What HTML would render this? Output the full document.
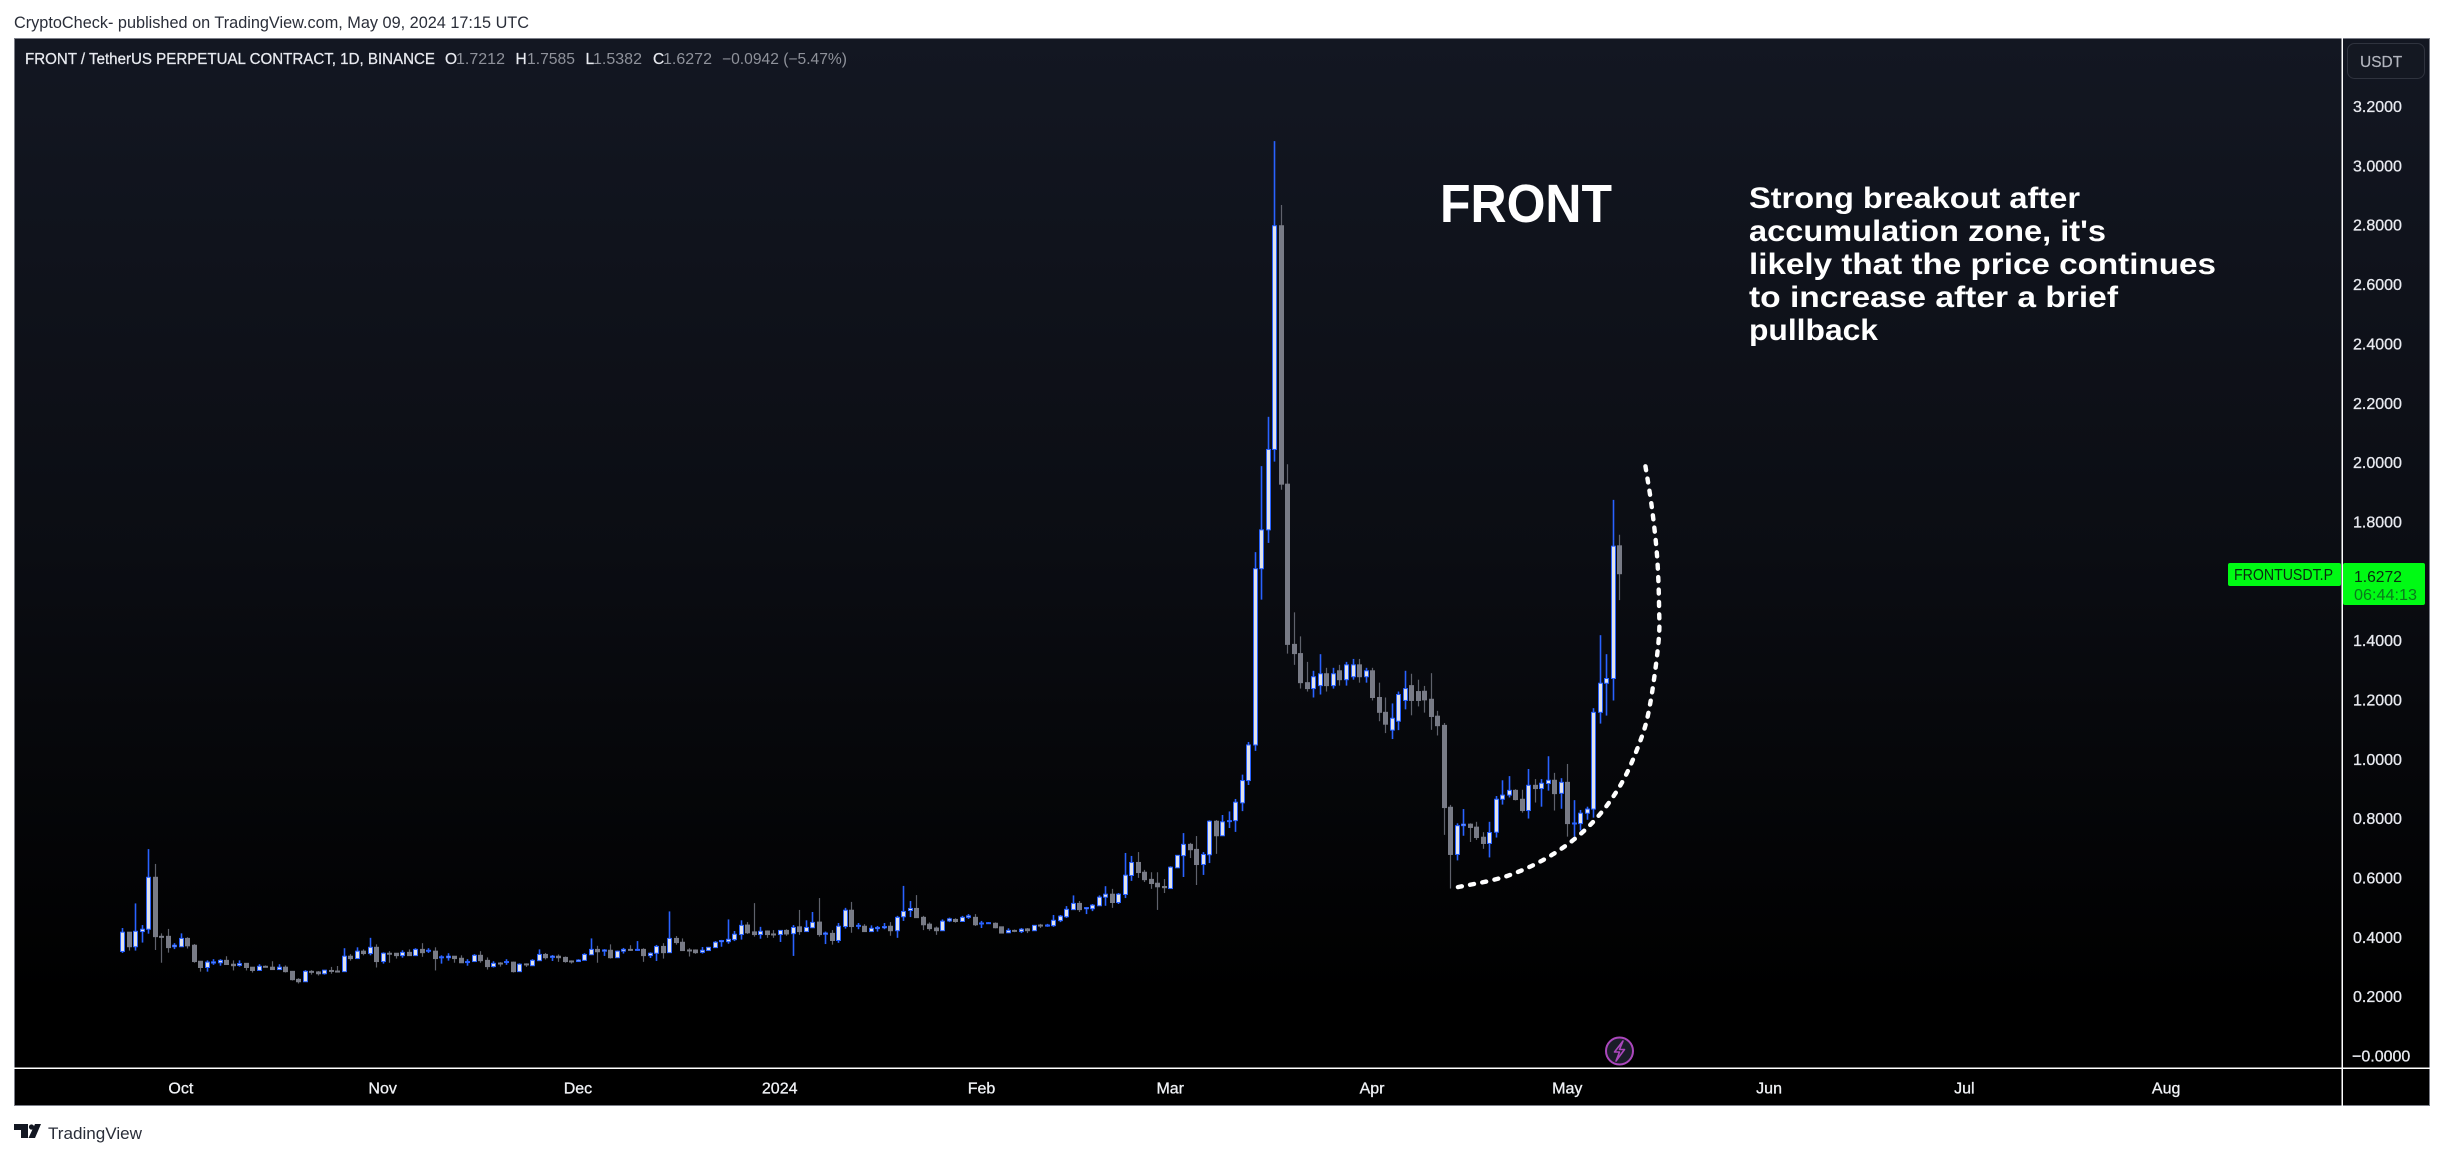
<!DOCTYPE html>
<html lang="en">
<head>
<meta charset="utf-8">
<title>FRONT / TetherUS Perpetual Contract chart</title>
<style>
html,body{margin:0;padding:0;background:#fff;width:2444px;height:1155px;overflow:hidden}
svg{display:block;font-family:"Liberation Sans",sans-serif}
</style>
</head>
<body>
<svg id="chart" xmlns="http://www.w3.org/2000/svg" width="2444" height="1155" viewBox="0 0 2444 1155">
  <defs>
    <linearGradient id="bgGrad" gradientUnits="userSpaceOnUse" x1="0" y1="38" x2="0" y2="1068">
      <stop offset="0" stop-color="#131722"/>
      <stop offset="0.5" stop-color="#0b0d13"/>
      <stop offset="0.93" stop-color="#000000"/>
      <stop offset="1" stop-color="#000000"/>
    </linearGradient>
  </defs>

  <rect x="0" y="0" width="2444" height="1155" fill="#ffffff"/>
  <text x="14" y="28" font-size="16.5" fill="#2a2e39" textLength="515" lengthAdjust="spacingAndGlyphs">CryptoCheck- published on TradingView.com, May 09, 2024 17:15 UTC</text>

  <rect x="14" y="38" width="2416" height="1030" fill="url(#bgGrad)"/>
  <rect x="14" y="1068" width="2416" height="38" fill="#000000"/>
  <rect x="14.5" y="38.5" width="2415" height="1067" fill="none" stroke="#7b7e88" stroke-width="1"/>

  <g id="candles"></g>
  <path id="arc" fill="none" stroke="#ffffff" stroke-width="4.4" stroke-linecap="round" stroke-dasharray="4 8.4"/>

  <rect x="2341.5" y="38" width="1.5" height="1068" fill="#ffffff"/>
  <rect x="14" y="1067.5" width="2416" height="1.5" fill="#ffffff"/>

  <g id="yTicks"></g>
  <g id="xTicks"></g>

  <g font-size="15.5" stroke-width="0.25">
    <text x="25" y="64" fill="#e8eaf0" stroke="#e8eaf0" textLength="410" lengthAdjust="spacingAndGlyphs">FRONT / TetherUS PERPETUAL CONTRACT, 1D, BINANCE</text>
    <text x="445" y="64" fill="#e8eaf0" stroke="#e8eaf0">O</text>
    <text x="456" y="64" fill="#8f929b" textLength="49" lengthAdjust="spacingAndGlyphs">1.7212</text>
    <text x="515.5" y="64" fill="#e8eaf0" stroke="#e8eaf0">H</text>
    <text x="527" y="64" fill="#8f929b" textLength="48" lengthAdjust="spacingAndGlyphs">1.7585</text>
    <text x="585.5" y="64" fill="#e8eaf0" stroke="#e8eaf0">L</text>
    <text x="593" y="64" fill="#8f929b" textLength="49" lengthAdjust="spacingAndGlyphs">1.5382</text>
    <text x="653" y="64" fill="#e8eaf0" stroke="#e8eaf0">C</text>
    <text x="663" y="64" fill="#8f929b" textLength="49" lengthAdjust="spacingAndGlyphs">1.6272</text>
    <text x="722" y="64" fill="#8f929b" textLength="125" lengthAdjust="spacingAndGlyphs">−0.0942 (−5.47%)</text>
  </g>

  <text x="1440" y="222" font-size="54" font-weight="bold" fill="#ffffff" textLength="172" lengthAdjust="spacingAndGlyphs">FRONT</text>
  <g font-size="30" font-weight="bold" fill="#ffffff">
    <text x="1749" y="208" textLength="331" lengthAdjust="spacingAndGlyphs">Strong breakout after</text>
    <text x="1749" y="241" textLength="357" lengthAdjust="spacingAndGlyphs">accumulation zone, it's</text>
    <text x="1749" y="274" textLength="467" lengthAdjust="spacingAndGlyphs">likely that the price continues</text>
    <text x="1749" y="307" textLength="369" lengthAdjust="spacingAndGlyphs">to increase after a brief</text>
    <text x="1749" y="340" textLength="129" lengthAdjust="spacingAndGlyphs">pullback</text>
  </g>

  <g>
    <rect x="2347.5" y="43.5" width="77" height="35" rx="7" fill="#141822" stroke="#2f333e" stroke-width="1"/>
    <text x="2360" y="67" font-size="15.5" fill="#b2b5be" stroke="#b2b5be" stroke-width="0.2">USDT</text>
  </g>

  <g>
    <rect x="2228" y="563" width="113" height="23" rx="2" fill="#00fa14"/>
    <text x="2234" y="580" font-size="15.5" fill="#0a2a10" textLength="99" lengthAdjust="spacingAndGlyphs">FRONTUSDT.P</text>
    <rect x="2343" y="563" width="82" height="42" rx="2" fill="#00fa14"/>
    <text x="2354" y="582" font-size="15.5" fill="#0a2a10" textLength="48" lengthAdjust="spacingAndGlyphs">1.6272</text>
    <text x="2354" y="600" font-size="15.5" fill="#0a7a1c" textLength="63" lengthAdjust="spacingAndGlyphs">06:44:13</text>
  </g>

  <g>
    <circle cx="1619.5" cy="1051" r="13.5" fill="#1a1d28" stroke="#ab47bc" stroke-width="2"/>
    <path d="M1623 1041 L1614.5 1052 L1619.5 1052 L1616 1061 L1624.5 1049.5 L1619.5 1049.5 Z" fill="none" stroke="#ab47bc" stroke-width="1.6" stroke-linejoin="round"/>
  </g>

  <g>
    <path d="M14 1124 H28 V1138 H21 V1130 H14 Z M35 1124 H41 L35 1138 H28.5 Z" fill="#131722"/>
    <circle cx="31.5" cy="1127" r="2.6" fill="#131722"/>
    <text x="48" y="1139" font-size="17" fill="#2a2e39" textLength="94" lengthAdjust="spacingAndGlyphs">TradingView</text>
  </g>
</svg>

<script>
const opens = [
.354,.419,.370,.421,.429,.604,.405,.405,.370,.370,
.398,.375,.321,.300,.315,.316,.324,.311,.307,.314,
.301,.290,.304,.301,.293,.301,.287,.260,.252,.287,
.285,.279,.290,.288,.286,.338,.330,.355,.347,.368,
.320,.348,.348,.340,.351,.340,.361,.356,.355,.333,
.333,.338,.331,.318,.320,.341,.324,.303,.315,.318,
.318,.286,.312,.306,.323,.344,.334,.338,.334,.322,
.320,.324,.343,.361,.355,.358,.333,.355,.361,.359,
.361,.340,.348,.371,.350,.398,.385,.359,.359,.351,
.357,.367,.387,.387,.394,.411,.443,.420,.411,.423,
.413,.411,.425,.414,.437,.421,.434,.453,.412,.415,
.391,.438,.493,.439,.439,.421,.431,.434,.439,.424,
.471,.492,.499,.469,.446,.433,.424,.457,.462,.455,
.469,.469,.447,.448,.449,.437,.417,.425,.421,.430,
.424,.443,.441,.441,.458,.471,.495,.516,.498,.498,
.508,.537,.547,.519,.546,.610,.654,.621,.597,.584,
.573,.566,.636,.677,.715,.698,.647,.680,.793,.744,
.793,.795,.855,.93,1.05,1.644,1.775,2.046,2.800,1.929,
1.389,1.358,1.26,1.24,1.25,1.29,1.25,1.30,1.27,1.28,
1.32,1.28,1.30,1.21,1.16,1.10,1.13,1.20,1.25,1.23,
1.231,1.204,1.147,1.116,.840,.681,.778,.783,.773,.739,
.718,.756,.867,.881,.897,.867,.829,.914,.903,.920,
.931,.887,.924,.785,.785,.820,.834,1.160,1.258,1.274,
1.7212];
const highs = [
.433,.419,.516,.443,.699,.649,.415,.430,.382,.415,
.402,.379,.321,.324,.328,.328,.338,.324,.324,.314,
.301,.311,.307,.321,.311,.307,.287,.264,.291,.291,
.288,.291,.302,.305,.365,.345,.368,.361,.400,.378,
.351,.355,.348,.358,.361,.365,.382,.365,.368,.341,
.348,.338,.341,.328,.345,.355,.334,.321,.318,.328,
.320,.314,.314,.328,.361,.349,.342,.344,.337,.324,
.328,.348,.398,.373,.362,.378,.357,.366,.375,.389,
.365,.351,.376,.382,.489,.406,.398,.365,.361,.369,
.368,.389,.393,.462,.423,.459,.453,.517,.437,.425,
.426,.426,.429,.443,.494,.459,.487,.534,.421,.426,
.450,.501,.521,.450,.446,.442,.440,.450,.453,.474,
.575,.524,.544,.474,.452,.438,.462,.468,.466,.474,
.480,.480,.457,.453,.452,.437,.432,.428,.433,.433,
.442,.447,.447,.477,.477,.507,.543,.524,.504,.514,
.543,.574,.565,.551,.686,.676,.689,.629,.621,.621,
.598,.641,.678,.753,.720,.743,.689,.796,.797,.814,
.826,.868,.95,1.06,1.70,1.990,2.156,3.085,2.870,1.996,
1.497,1.416,1.33,1.30,1.356,1.31,1.31,1.32,1.33,1.34,
1.34,1.31,1.31,1.26,1.21,1.19,1.23,1.30,1.29,1.27,
1.249,1.292,1.165,1.124,.848,.786,.834,.786,.791,.756,
.791,.878,.931,.945,.901,.899,.969,.935,.935,1.012,
.956,.938,.986,.864,.831,.842,1.174,1.420,1.356,1.876,
1.7585];
const lows = [
.349,.357,.357,.384,.414,.359,.316,.350,.362,.370,
.364,.316,.286,.286,.309,.306,.310,.290,.303,.290,
.283,.290,.302,.293,.293,.283,.256,.246,.252,.276,
.273,.276,.279,.283,.286,.323,.330,.341,.341,.300,
.313,.316,.330,.333,.340,.340,.336,.349,.290,.313,
.323,.316,.316,.306,.320,.316,.293,.300,.303,.309,
.283,.286,.302,.306,.323,.327,.322,.319,.316,.313,
.320,.324,.343,.316,.339,.330,.333,.347,.356,.356,
.319,.332,.322,.330,.350,.377,.357,.337,.346,.347,
.357,.367,.370,.380,.389,.394,.413,.404,.397,.400,
.400,.386,.407,.339,.410,.421,.434,.404,.379,.377,
.383,.431,.417,.429,.421,.421,.421,.429,.407,.400,
.457,.470,.468,.426,.424,.410,.424,.453,.451,.455,
.464,.440,.433,.447,.432,.416,.416,.419,.416,.416,
.424,.433,.437,.437,.453,.467,.495,.487,.480,.490,
.508,.508,.501,.514,.534,.592,.602,.588,.565,.494,
.551,.566,.636,.605,.669,.578,.612,.652,.683,.744,
.770,.757,.827,.915,1.03,1.540,1.731,2.005,1.910,1.358,
1.32,1.24,1.23,1.21,1.22,1.23,1.24,1.25,1.25,1.27,
1.26,1.26,1.20,1.13,1.09,1.07,1.10,1.17,1.15,1.18,
1.159,1.101,1.082,.747,.566,.661,.744,.723,.730,.700,
.671,.738,.849,.873,.863,.822,.802,.856,.842,.896,
.829,.835,.741,.741,.762,.798,.805,1.122,1.149,1.200,
1.5382];
const closes = [
.419,.370,.422,.429,.604,.404,.403,.367,.375,.398,
.373,.320,.300,.318,.319,.324,.310,.306,.313,.300,
.290,.304,.302,.293,.301,.286,.259,.252,.287,.285,
.279,.291,.287,.286,.338,.330,.355,.347,.368,.320,
.348,.346,.340,.351,.340,.361,.350,.358,.330,.336,
.338,.330,.316,.320,.341,.323,.303,.314,.312,.320,
.286,.311,.310,.324,.344,.333,.338,.333,.320,.320,
.325,.344,.361,.353,.359,.333,.355,.361,.359,.361,
.340,.348,.371,.350,.398,.384,.357,.357,.350,.358,
.368,.385,.391,.395,.412,.442,.417,.411,.422,.411,
.411,.425,.413,.435,.421,.435,.452,.411,.416,.391,
.439,.493,.438,.442,.421,.432,.435,.438,.424,.469,
.489,.499,.468,.444,.431,.424,.456,.464,.455,.469,
.474,.444,.450,.451,.434,.416,.425,.423,.429,.424,
.442,.441,.443,.459,.473,.496,.516,.495,.502,.510,
.537,.547,.519,.547,.611,.654,.620,.596,.583,.572,
.569,.638,.678,.715,.697,.647,.681,.793,.744,.791,
.795,.857,.93,1.05,1.644,1.775,2.046,2.800,1.929,1.389,
1.358,1.26,1.24,1.28,1.29,1.25,1.29,1.27,1.32,1.32,
1.28,1.30,1.21,1.16,1.12,1.14,1.22,1.24,1.20,1.20,
1.202,1.146,1.115,.839,.681,.778,.783,.772,.738,.718,
.755,.867,.881,.897,.866,.829,.914,.903,.921,.931,
.886,.924,.785,.787,.820,.834,1.160,1.258,1.274,1.720,
1.6272];
const priceTicks = [3.2,3.0,2.8,2.6,2.4,2.2,2.0,1.8,1.4,1.2,1.0,0.8,0.6,0.4,0.2,0];
const priceTickLabels = ["3.2000","3.0000","2.8000","2.6000","2.4000","2.2000","2.0000","1.8000","1.4000","1.2000","1.0000","0.8000","0.6000","0.4000","0.2000","−0.0000"];
const monthBars = [9,40,70,101,132,161,192,222,253,283,314];
const monthLabels = ["Oct","Nov","Dec","2024","Feb","Mar","Apr","May","Jun","Jul","Aug"];
const curveBars = [205.2,212.7,219.6,225.5,230.1,233.2,234.7,236.0,236.1,235.8,235.0,234.0];
const curvePrices = [.571,.608,.679,.780,.912,1.063,1.185,1.394,1.515,1.684,1.849,1.990];

const NS = 'http://www.w3.org/2000/svg';
const xScale = function (i) { return 122.3 + 6.509 * i; };
const yScale = function (p) { return 1056.5 - 296.7 * p; };
const UP_FILL = '#e0e3eb', UP_EDGE = '#2962ff', DOWN_FILL = '#787b86', DOWN_WICK = '#5f626c';

const candleGroup = document.getElementById('candles');
opens.forEach(function (o, i) {
  const c = closes[i];
  const up = c >= o;
  const cx = Math.round(xScale(i)) + 0.5;
  const wick = document.createElementNS(NS, 'line');
  
  
  wick.setAttribute('x1', cx);
  wick.setAttribute('x2', cx);
  wick.setAttribute('y1', yScale(highs[i]));
  wick.setAttribute('y2', yScale(lows[i]));
  wick.setAttribute('stroke', up ? UP_EDGE : DOWN_WICK);
  wick.setAttribute('stroke-width', up ? 1.6 : 1.2);
  candleGroup.appendChild(wick);
  const top = yScale(Math.max(o, c));
  const bot = yScale(Math.min(o, c));
  const body = document.createElementNS(NS, 'rect');
  
  
  body.setAttribute('x', cx - 2);
  body.setAttribute('y', top);
  body.setAttribute('width', 4);
  body.setAttribute('height', Math.max(bot - top, 1));
  body.setAttribute('fill', up ? UP_FILL : DOWN_FILL);
  body.setAttribute('stroke', up ? UP_EDGE : DOWN_FILL);
  body.setAttribute('stroke-width', 1);
  candleGroup.appendChild(body);
});

const yGroup = document.getElementById('yTicks');
priceTicks.forEach(function (p, i) {
  const t = document.createElementNS(NS, 'text');
  
  
  t.setAttribute('x', p === 0 ? 2352 : 2353);
  t.setAttribute('y', yScale(p) + 5);
  t.setAttribute('font-size', '16');
  t.setAttribute('fill', '#e8eaf0');
  t.setAttribute('stroke', '#e8eaf0');
  t.setAttribute('stroke-width', '0.3');
  t.textContent = priceTickLabels[i];
  yGroup.appendChild(t);
});

const xGroup = document.getElementById('xTicks');
monthBars.forEach(function (b, i) {
  const t = document.createElementNS(NS, 'text');
  
  
  t.setAttribute('x', xScale(b));
  t.setAttribute('y', 1093.5);
  t.setAttribute('text-anchor', 'middle');
  t.setAttribute('font-size', '16');
  t.setAttribute('fill', '#f0f2f6');
  t.setAttribute('stroke', '#f0f2f6');
  t.setAttribute('stroke-width', '0.3');
  t.textContent = monthLabels[i];
  xGroup.appendChild(t);
});

(function () {
  const pts = curveBars.map(function (b, i) { return [xScale(b), yScale(curvePrices[i])]; });
  let d = 'M' + pts[0][0] + ' ' + pts[0][1];
  for (let i = 0; i < pts.length - 1; i++) {
    const p0 = pts[Math.max(i - 1, 0)], p1 = pts[i], p2 = pts[i + 1], p3 = pts[Math.min(i + 2, pts.length - 1)];
    const c1x = p1[0] + (p2[0] - p0[0]) / 6, c1y = p1[1] + (p2[1] - p0[1]) / 6;
    const c2x = p2[0] - (p3[0] - p1[0]) / 6, c2y = p2[1] - (p3[1] - p1[1]) / 6;
    d += ' C' + c1x + ' ' + c1y + ' ' + c2x + ' ' + c2y + ' ' + p2[0] + ' ' + p2[1];
  }
  document.getElementById('arc').setAttribute('d', d);
})();
</script>
</body>
</html>
